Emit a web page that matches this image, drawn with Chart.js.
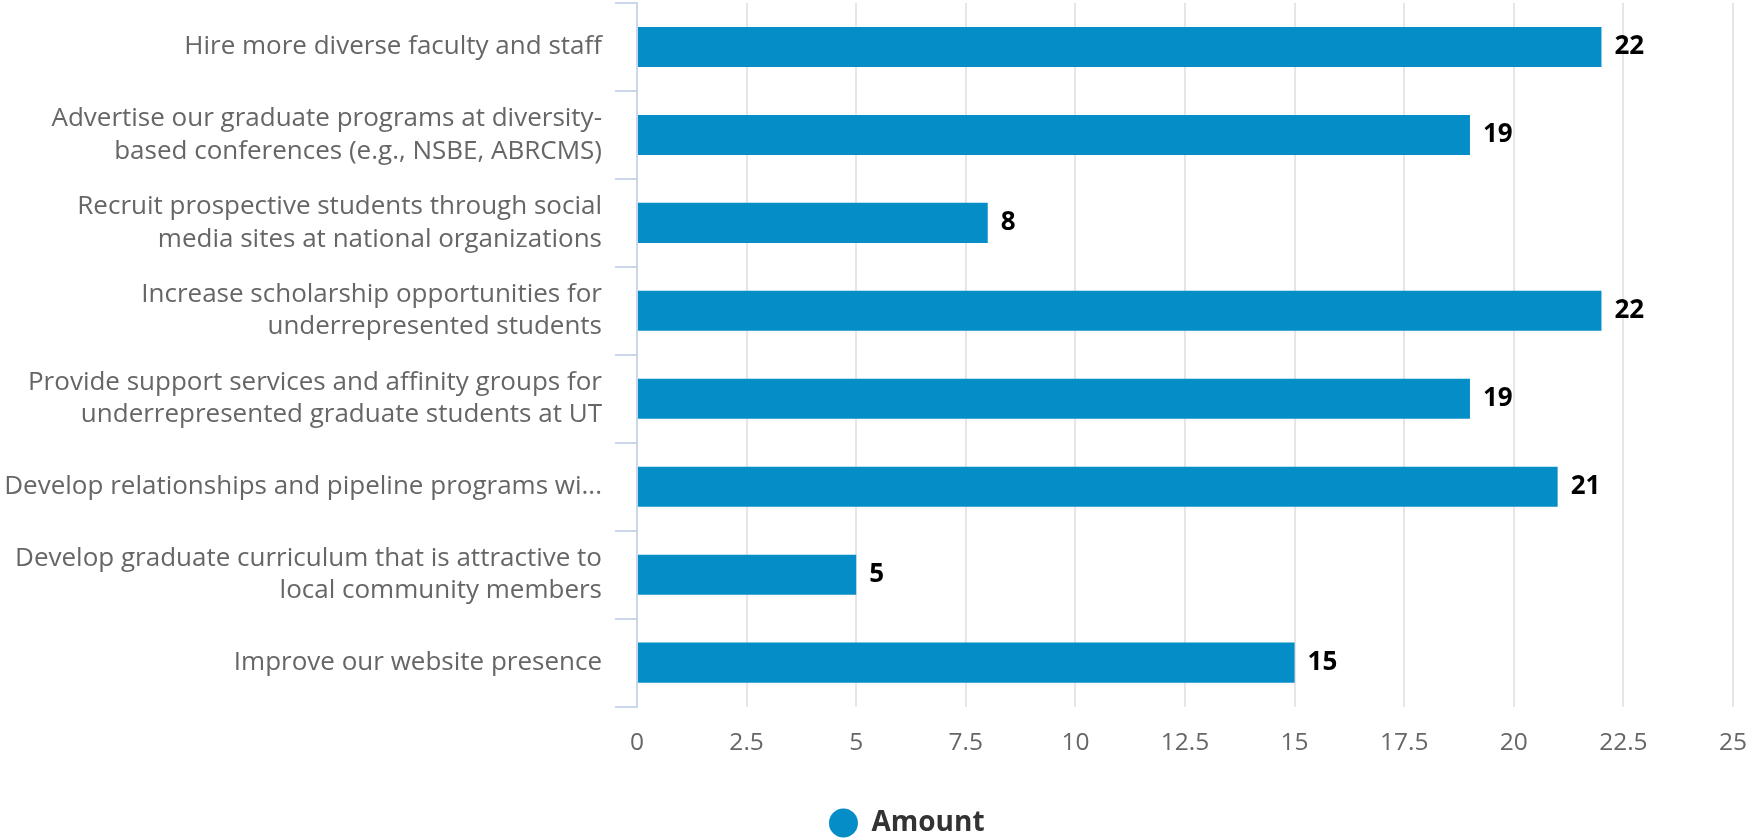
<!DOCTYPE html>
<html lang="en">
<head>
    <meta charset="UTF-8">
    <title>Recruitment strategies</title>
    <script src="https://cdn.jsdelivr.net/npm/chart.js"></script>
    <style>
        html, body {
            margin: 0;
            padding: 0;
            background: #ffffff;
        }
        .chart-box {
            width: 1746px;
            height: 839px;
        }
    </style>
</head>
<body>
    <div class="chart-box">
        <canvas id="amountChart" width="1746" height="839"></canvas>
    </div>

    <script>
        // categories (multi-line labels as arrays)
        const categories = [
            ['Hire more diverse faculty and staff'],
            ['Advertise our graduate programs at diversity-', 'based conferences (e.g., NSBE, ABRCMS)'],
            ['Recruit prospective students through social', 'media sites at national organizations'],
            ['Increase scholarship opportunities for', 'underrepresented students'],
            ['Provide support services and affinity groups for', 'underrepresented graduate students at UT'],
            ['Develop relationships and pipeline programs wi...'],
            ['Develop graduate curriculum that is attractive to', 'local community members'],
            ['Improve our website presence']
        ];
        const amounts = [22, 19, 8, 22, 19, 21, 5, 15];
        const seriesName = 'Amount';
        const xMin = 0;
        const xMax = 25;
        const xStep = 2.5;

        const barColor = '#058dc7';

        // value labels at the end of each bar
        const valueLabels = {
            id: 'valueLabels',
            afterLayout(chart) {
                // legend in the reference sits a bit right of the page centre
                chart.legend.left += 68;
            },
            afterDatasetsDraw(chart) {
                const ctx = chart.ctx;
                const meta = chart.getDatasetMeta(0);
                ctx.save();
                ctx.font = 'bold 26px "Open Sans"';
                ctx.fillStyle = '#000000';
                ctx.textAlign = 'left';
                ctx.textBaseline = 'middle';
                meta.data.forEach(function(bar, i) {
                    ctx.fillText(String(chart.data.datasets[0].data[i]), bar.x + 13, bar.y);
                });
                ctx.restore();
            }
        };

        function initChart() {
            new Chart(document.getElementById('amountChart'), {
                type: 'bar',
                data: {
                    labels: categories,
                    datasets: [{
                        label: seriesName,
                        data: amounts,
                        backgroundColor: barColor,
                        borderWidth: 0,
                        categoryPercentage: 1,
                        barPercentage: 0.455
                    }]
                },
                options: {
                    indexAxis: 'y',
                    responsive: false,
                    maintainAspectRatio: false,
                    animation: false,
                    layout: {
                        padding: { top: 3, right: 0, bottom: -8, left: 0 }
                    },
                    plugins: {
                        tooltip: { enabled: false },
                        legend: {
                            position: 'bottom',
                            labels: {
                                usePointStyle: true,
                                pointStyle: 'circle',
                                boxWidth: 29,
                                boxHeight: 20.5,
                                color: '#333333',
                                padding: 3,
                                font: { family: '"Open Sans"', size: 28, weight: 'bold' }
                            }
                        }
                    },
                    scales: {
                        x: {
                            min: xMin,
                            max: xMax,
                            afterFit: function(scale) {
                                scale.paddingRight = 13;
                                scale.paddingLeft = 0;
                                scale.height += 26;
                            },
                            ticks: {
                                stepSize: xStep,
                                color: '#666666',
                                padding: 22,
                                font: { family: '"Open Sans"', size: 24.5 }
                            },
                            grid: {
                                color: '#e6e6e6',
                                lineWidth: 2,
                                drawTicks: false
                            },
                            border: { display: false }
                        },
                        y: {
                            afterFit: function(scale) {
                                scale.width = 637;
                                scale.paddingTop = 0;
                                scale.paddingBottom = 0;
                            },
                            ticks: {
                                color: '#666666',
                                padding: 13,
                                font: { family: '"Open Sans"', size: 26, lineHeight: 1.25 }
                            },
                            grid: {
                                color: '#ccd6eb',
                                lineWidth: 2,
                                offset: true,
                                drawOnChartArea: false,
                                drawTicks: true,
                                tickLength: 22
                            },
                            border: { color: '#ccd6eb', width: 2 }
                        }
                    }
                },
                plugins: [valueLabels]
            });
        }

        document.addEventListener('DOMContentLoaded', function() {
            initChart();
        });
    </script>
</body>
</html>
